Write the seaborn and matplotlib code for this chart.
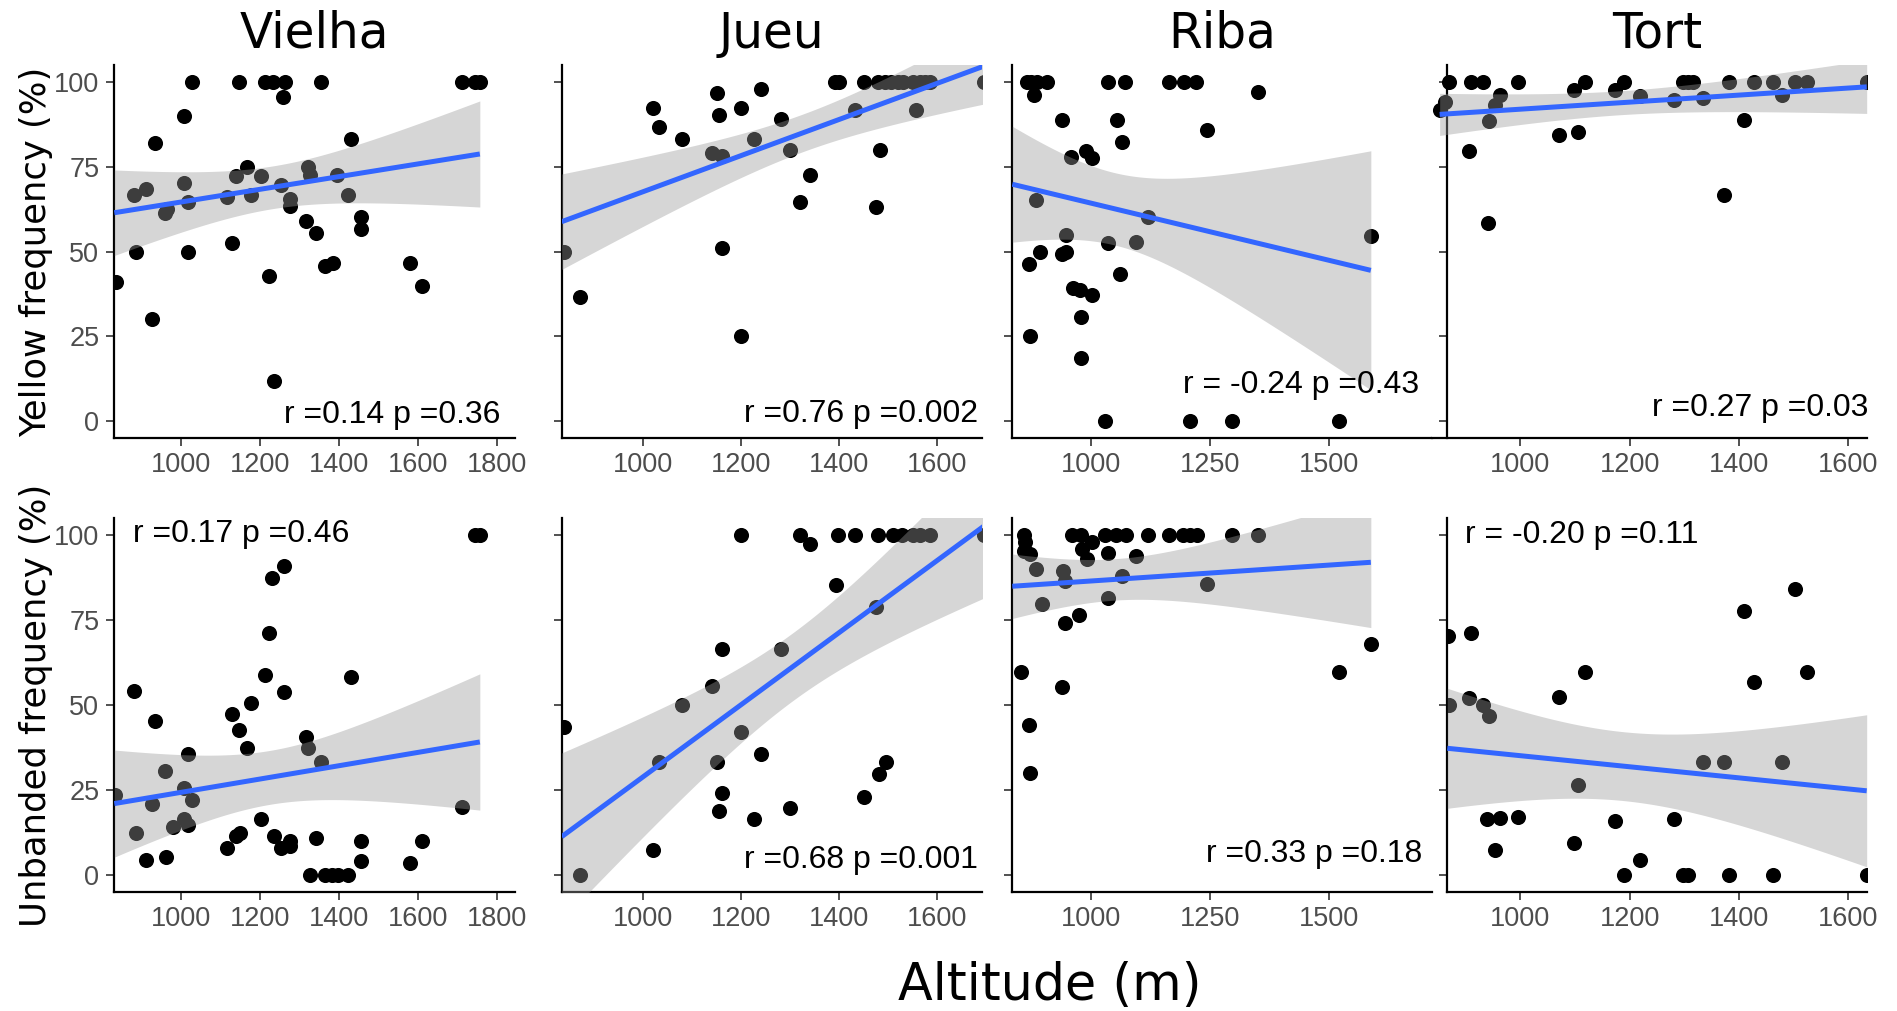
import numpy as np
import pandas as pd
import matplotlib
matplotlib.use("Agg")
import matplotlib.pyplot as plt
import seaborn as sns

# ---------------------------------------------------------------- data
sites = ["Vielha", "Jueu", "Riba", "Tort"]
row_labels = ["Yellow frequency (%)", "Unbanded frequency (%)"]

vielha_yellow_alt = [835, 880, 910, 886, 933, 927, 960, 964, 1007, 1007, 1017, 1018, 1028,
                     1115, 1130, 1139, 1147, 1167, 1178, 1203, 1213, 1233, 1223, 1234, 1262,
                     1258, 1254, 1276, 1276, 1316, 1320, 1326, 1341, 1354, 1364, 1385, 1395,
                     1422, 1431, 1456, 1456, 1580, 1609, 1710, 1745, 1756]
vielha_yellow = [41.2, 66.7, 68.6, 50, 81.9, 30.3, 61.5, 62.7, 89.9, 70.3, 64.7, 50, 100,
                 66.2, 52.5, 72.3, 100, 75, 66.7, 72.4, 100, 100, 42.8, 11.8, 100,
                 95.6, 69.6, 65.4, 63.4, 59.1, 75, 72.5, 55.6, 100, 45.8, 46.8, 72.5,
                 66.7, 83.3, 60.3, 56.6, 46.6, 40, 100, 100, 100]

vielha_unbanded_alt = [833, 880, 886, 910, 927, 933, 960, 962, 979, 1007, 1008, 1017, 1018,
                       1028, 1115, 1130, 1139, 1147, 1149, 1167, 1178, 1203, 1212, 1223,
                       1230, 1234, 1254, 1260, 1261, 1276, 1276, 1316, 1320, 1325, 1341,
                       1354, 1364, 1383, 1397, 1423, 1431, 1456, 1456, 1580, 1609, 1710,
                       1745, 1756]
vielha_unbanded = [23.5, 54.2, 12.5, 4.4, 20.9, 45.3, 30.7, 5.4, 14.2, 25.8, 16.7, 14.7, 35.6,
                   22.2, 8.0, 47.5, 11.5, 42.8, 12.4, 37.4, 50.6, 16.5, 58.8, 71.3,
                   87.4, 11.6, 8.0, 91.1, 54, 10.1, 8.5, 40.8, 37.4, 0, 11,
                   33.3, 0, 0, 0, 0, 58.3, 10, 4.2, 3.6, 10, 20.1,
                   100, 100]

jueu_yellow_alt = [840, 873, 1020, 1034, 1080, 1140, 1151, 1156, 1162, 1161, 1201, 1201, 1226,
                   1241, 1281, 1300, 1321, 1341, 1391, 1399, 1432, 1451, 1475, 1483, 1479,
                   1493, 1506, 1520, 1530, 1551, 1557, 1564, 1574, 1584, 1695]
jueu_yellow = [50, 36.5, 92.4, 86.8, 83.3, 79.1, 96.8, 90.2, 78.1, 51, 92.2, 25, 83.3,
               98, 89, 80.1, 64.7, 72.5, 100, 100, 91.7, 100, 63.2, 80.1, 100,
               100, 100, 100, 100, 100, 91.7, 100, 100, 100, 100]

jueu_unbanded_alt = [840, 873, 1020, 1034, 1080, 1140, 1151, 1156, 1161, 1161, 1201, 1201,
                     1226, 1241, 1281, 1300, 1321, 1341, 1393, 1398, 1432, 1451, 1475, 1481,
                     1495, 1479, 1510, 1527, 1551, 1564, 1584, 1695]
jueu_unbanded = [43.6, 0, 7.5, 33.3, 50, 55.8, 33.3, 18.9, 24.3, 66.6, 42.1, 100,
                 16.7, 35.7, 66.6, 19.9, 100, 97.5, 85.5, 100, 100, 23, 78.8, 29.9,
                 33.3, 100, 100, 100, 100, 100, 100, 100]

riba_yellow_alt = [864, 874, 885, 906, 880, 938, 957, 990, 1001, 883, 946, 947, 938, 892, 869,
                   961, 976, 1001, 978, 871, 978, 1036, 1071, 1055, 1065, 1036, 1060, 1095,
                   1120, 1029, 1163, 1195, 1220, 1208, 1244, 1297, 1350, 1521, 1588]
riba_yellow = [100, 100, 100, 100, 96.1, 88.9, 77.9, 79.6, 77.5, 65.2, 54.9, 50, 49.3, 50, 46.4,
               39.4, 38.7, 37.1, 30.7, 25, 18.6, 100, 100, 88.9, 82.4, 52.6, 43.4, 52.9,
               60.3, 0, 100, 100, 100, 0, 85.8, 0, 97.1, 0, 54.6]

riba_unbanded_alt = [859, 861, 859, 872, 884, 896, 853, 869, 872, 938, 940, 944, 944, 959, 978,
                     975, 980, 1001, 992, 1029, 1036, 1036, 1053, 1064, 1074, 1095, 1120,
                     1163, 1194, 1208, 1222, 1244, 1297, 1350, 1521, 1588]
riba_unbanded = [100, 97.9, 95.5, 94.5, 90.1, 79.8, 59.7, 44.1, 30.1, 55.3, 89.6, 86.7, 74.1,
                 100, 100, 76.7, 96, 97.9, 93, 100, 94.7, 81.6, 100, 88.1, 100, 94, 100,
                 100, 100, 100, 100, 85.7, 100, 100, 59.7, 68.1]

tort_yellow_alt = [852, 861, 870, 906, 910, 932, 940, 942, 953, 962, 996, 1070, 1098, 1106,
                   1118, 1173, 1190, 1219, 1282, 1298, 1307, 1316, 1335, 1373, 1381, 1410,
                   1428, 1463, 1478, 1503, 1524, 1634]
tort_yellow = [91.7, 94.1, 100, 79.6, 100, 100, 58.3, 88.4, 93.1, 96.1, 100, 84.3, 97.7, 85.3,
               100, 97.7, 100, 95.9, 94.6, 100, 100, 100, 95.4, 66.7, 100, 88.9,
               100, 100, 96.1, 100, 100, 100]

tort_unbanded_alt = [867, 870, 909, 906, 932, 942, 938, 962, 954, 996, 1070, 1098, 1106, 1118,
                     1173, 1190, 1219, 1282, 1298, 1307, 1335, 1373, 1381, 1410, 1428, 1463,
                     1478, 1503, 1524, 1634]
tort_unbanded = [70.5, 50, 71.3, 52.2, 50, 47, 16.7, 16.9, 7.3, 17.1, 52.4, 9.5, 26.7, 59.7,
                 15.9, 0, 4.4, 16.7, 0, 0, 33.3, 33.3, 0, 77.7, 57, 0,
                 33.3, 84.2, 59.9, 0]

stats_yellow = ["r =0.14 p =0.36", "r =0.76 p =0.002", "r = -0.24 p =0.43", "r =0.27 p =0.03"]
stats_unbanded = ["r =0.17 p =0.46", "r =0.68 p =0.001", "r =0.33 p =0.18", "r = -0.20 p =0.11"]

y_ticks = [0, 25, 50, 75, 100]
x_ticks = [[1000, 1200, 1400, 1600, 1800],
           [1000, 1200, 1400, 1600],
           [1000, 1250, 1500],
           [1000, 1200, 1400, 1600]]

frames = []
for site, (ya, yv, ua, uv) in zip(sites, [
        (vielha_yellow_alt, vielha_yellow, vielha_unbanded_alt, vielha_unbanded),
        (jueu_yellow_alt, jueu_yellow, jueu_unbanded_alt, jueu_unbanded),
        (riba_yellow_alt, riba_yellow, riba_unbanded_alt, riba_unbanded),
        (tort_yellow_alt, tort_yellow, tort_unbanded_alt, tort_unbanded)]):
    frames.append(pd.DataFrame({"site": site, "trait": row_labels[0], "altitude": ya, "freq": yv}))
    frames.append(pd.DataFrame({"site": site, "trait": row_labels[1], "altitude": ua, "freq": uv}))
df = pd.concat(frames, ignore_index=True)

# ---------------------------------------------------------------- layout
W, H = 1897, 1011
sns.set_style("ticks")
plt.rcParams["font.family"] = ["Liberation Sans", "DejaVu Sans"]

fig = plt.figure(figsize=(W / 100, H / 100), dpi=100)

col_px = [(114.3, 400.7), (561.7, 420.0), (1012.3, 419.4), (1447.3, 419.4)]
row_px = [(65.0, 438.3), (518.3, 892.3)]
col_xlim = [(831, 1845), (835, 1690), (834, 1716), (866, 1634)]

stat_pos = [
    [(0.9625, 0.040, "right"), (0.991, 0.043, "right"), (0.970, 0.121, "right"), (1.005, 0.059, "right")],
    [(0.0475, 0.936, "left"), (0.991, 0.064, "right"), (0.977, 0.080, "right"), (0.042, 0.933, "left")],
]
stat_text = [stats_yellow, stats_unbanded]


def ols_band(x, y, lo, hi):
    x = np.asarray(x, float)
    y = np.asarray(y, float)
    n = len(x)
    b1, b0 = np.polyfit(x, y, 1)
    grid = np.linspace(lo, hi, 200)
    pred = b0 + b1 * grid
    resid = y - (b0 + b1 * x)
    s = np.sqrt(np.sum(resid ** 2) / (n - 2))
    sxx = np.sum((x - x.mean()) ** 2)
    se = s * np.sqrt(1.0 / n + (grid - x.mean()) ** 2 / sxx)
    dof = n - 2
    z = 1.959964
    t = z + (z ** 3 + z) / (4 * dof) + (5 * z ** 5 + 16 * z ** 3 + 3 * z) / (96 * dof ** 2)
    return grid, pred, pred - t * se, pred + t * se


for r, trait in enumerate(row_labels):
    top, bottom = row_px[r]
    for c, site in enumerate(sites):
        left, width = col_px[c]
        x0, x1 = col_xlim[c]
        view_lo = x0
        # the upper Tort panel shows a little data area to the left of its axis line
        if r == 0 and c == 3:
            extra = 15.3
            view_lo = x0 - extra * (x1 - x0) / width
            left, width = left - extra, width + extra
        ax = fig.add_axes([left / W, 1 - bottom / H, width / W, (bottom - top) / H])
        sub = df[(df.site == site) & (df.trait == trait)]

        sns.scatterplot(data=sub, x="altitude", y="freq", ax=ax, color="black",
                        s=118, linewidth=0, zorder=2)
        lo = min(x0, sub.altitude.min())
        grid, pred, lower, upper = ols_band(sub.altitude, sub.freq, lo, sub.altitude.max())
        ax.fill_between(grid, lower, upper, color="#999999", alpha=0.4, linewidth=0, zorder=3)
        ax.plot(grid, pred, color="#3366FF", lw=3.6, zorder=4, solid_capstyle="butt")

        ax.set_xlim(view_lo, x1)
        ax.set_ylim(-5, 105)
        if view_lo != x0:
            ax.spines["left"].set_position(("data", x0))
        ax.set_xticks(x_ticks[c])
        ax.set_yticks(y_ticks)
        ax.set_xlabel("")
        ax.set_ylabel("")
        for side in ("top", "right"):
            ax.spines[side].set_visible(False)
        for side in ("left", "bottom"):
            ax.spines[side].set_linewidth(1.6)
            ax.spines[side].set_color("black")
        ax.tick_params(axis="both", direction="out", length=5.8, width=1.2, color="#333333",
                       labelsize=19.5, labelcolor="#4D4D4D")
        ax.tick_params(axis="y", pad=5)
        ax.tick_params(axis="x", pad=4)
        if c != 0:
            ax.tick_params(axis="y", labelleft=False)
        ax.set_facecolor("white")

        sx, sy, ha = stat_pos[r][c]
        if r == 0 and c == 3:
            sx = ((col_px[3][0] + sx * col_px[3][1]) - left) / width
        ax.text(sx, sy, stat_text[r][c], transform=ax.transAxes, ha=ha, va="baseline",
                fontsize=23, color="black", zorder=6)

# column titles
for c, site in enumerate(sites):
    left, width = col_px[c]
    fig.text((left + width / 2) / W, 1 - 48 / H, site, ha="center", va="baseline",
             fontsize=35, family="DejaVu Sans", color="black")

# row labels
for r, label in enumerate(row_labels):
    top, bottom = row_px[r]
    fig.text(36 / W, 1 - (top + bottom) / 2 / H, label, rotation=90, ha="center",
             va="center", fontsize=25.5, family="DejaVu Sans", color="black")

fig.text(1050 / W, 1 - 1000 / H, "Altitude (m)", ha="center", va="baseline",
         fontsize=36.5, family="DejaVu Sans", color="black")

fig.savefig("out.png", dpi=100, facecolor="white")
